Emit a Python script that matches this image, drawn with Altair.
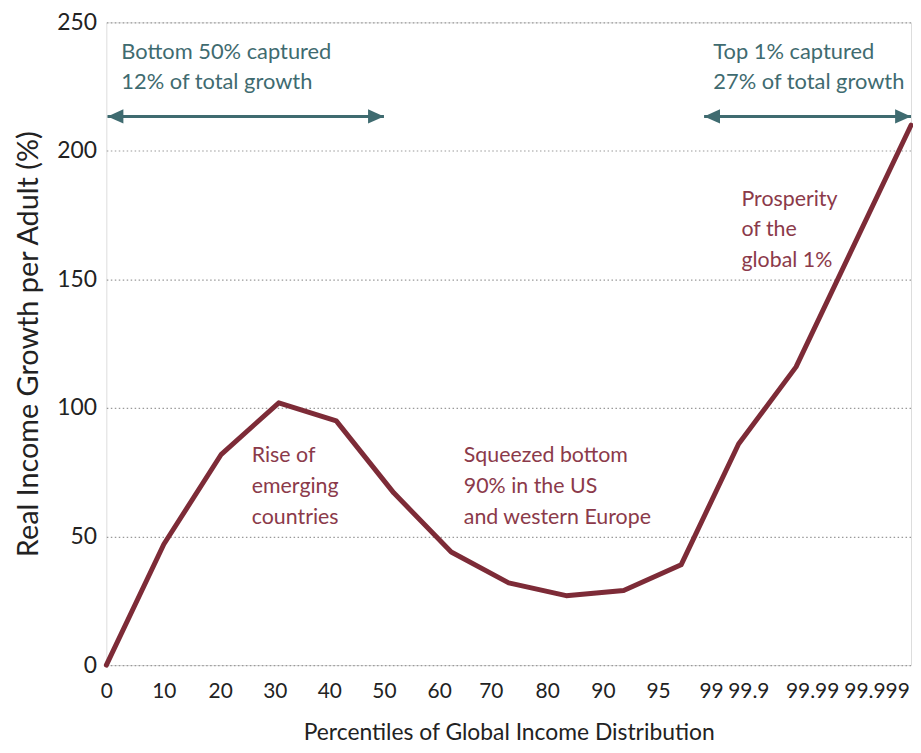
import altair as alt
import pandas as pd

# Line data: position index along the (non-linear) percentile axis and growth (%)
pos_index = [0, 1, 2, 3, 4, 5, 6, 7, 8, 9, 10, 11, 12, 14]
growth = [0, 47, 82, 102, 95, 67, 44, 32, 27, 29, 39, 86, 116, 210]

# Axis tick labels and where they sit on the index axis
tick_labels = ["0", "10", "20", "30", "40", "50", "60", "70", "80", "90", "95",
               "99", "99.9", "99.99", "99.999"]
tick_pos = [0, 1.0, 1.98, 2.93, 3.88, 4.83, 5.79, 6.69, 7.67, 8.64, 9.6,
            10.52, 11.17, 12.28, 13.4]

# Annotations
red_notes = ["Rise of\nemerging\ncountries",
             "Squeezed bottom\n90% in the US\nand western Europe",
             "Prosperity\nof the\nglobal 1%"]
red_x = [2.53, 6.22, 11.05]
red_y = [79, 79, 178.7]

teal_notes = ["Bottom 50% captured\n12% of total growth",
              "Top 1% captured\n27% of total growth"]
teal_x = [0.26, 10.56]
teal_y = [235.7, 235.7]

arrow_x1 = [0.02, 10.4]
arrow_x2 = [4.83, 14.0]
arrow_y = [213.4, 213.4]

LINE = "#7d2b37"
TEAL = "#3f6b70"
RED_TXT = "#8b3a4a"
FONT = "Lato"

df = pd.DataFrame({"x": pos_index, "y": growth})
df_red = pd.DataFrame({"x": red_x, "y": red_y, "t": red_notes})
df_teal = pd.DataFrame({"x": teal_x, "y": teal_y, "t": teal_notes})
df_arrow = pd.DataFrame({"x": arrow_x1, "x2": arrow_x2, "y": arrow_y})

label_map = "{" + ",".join(f"'{p:g}':'{l}'" for p, l in zip(tick_pos, tick_labels)) + "}"

xscale = alt.Scale(domain=[0, 14], nice=False, zero=False)
yscale = alt.Scale(domain=[0, 250], nice=False)

x_enc = alt.X("x:Q", scale=xscale,
              axis=alt.Axis(values=tick_pos,
                            labelExpr=f"{label_map}[toString(datum.value)]",
                            title="Percentiles of Global Income Distribution",
                            grid=False, domain=False, ticks=False,
                            labelPadding=16, labelFontSize=21, labelColor="#222",
                            labelFont=FONT, titleFont=FONT, titleFontSize=23,
                            titleFontWeight="normal", titleColor="#222",
                            titlePadding=20, labelOverlap=False, labelFlush=False))
y_enc = alt.Y("y:Q", scale=yscale,
              axis=alt.Axis(values=[0, 50, 100, 150, 200, 250],
                            title="Real Income Growth per Adult (%)",
                            grid=True, gridDash=[1.5, 2.5], gridColor="#999",
                            gridWidth=1.2, domain=False, ticks=False,
                            labelPadding=10, labelFontSize=23, labelColor="#222",
                            labelFont=FONT, titleFont=FONT, titleFontSize=29,
                            titleFontWeight="normal", titleColor="#222",
                            titlePadding=13))

line = alt.Chart(df).mark_line(color=LINE, strokeWidth=5, strokeJoin="round",
                               strokeCap="round").encode(x=x_enc, y=y_enc)

red = alt.Chart(df_red).mark_text(align="left", baseline="alphabetic", font=FONT,
                                  fontSize=21.5, color=RED_TXT, lineHeight=31,
                                  lineBreak="\n").encode(x="x:Q", y="y:Q", text="t:N")
teal = alt.Chart(df_teal).mark_text(align="left", baseline="alphabetic", font=FONT,
                                    fontSize=22, color=TEAL, lineHeight=30,
                                    lineBreak="\n").encode(x="x:Q", y="y:Q", text="t:N")

shaft = alt.Chart(df_arrow).mark_rule(color=TEAL, strokeWidth=3).encode(
    x="x:Q", x2="x2:Q", y="y:Q")
head_l = alt.Chart(df_arrow).mark_point(shape="M0,0L2,-0.9L2,0.9Z", filled=True,
                                        opacity=1, color=TEAL, size=256).encode(
    x="x:Q", y="y:Q")
head_r = alt.Chart(df_arrow).mark_point(shape="M0,0L-2,-0.9L-2,0.9Z", filled=True,
                                        opacity=1, color=TEAL, size=256).encode(
    x="x2:Q", y="y:Q")

chart = alt.layer(line, shaft, head_l, head_r, teal, red).properties(
    width=810, height=647,
    autosize=alt.AutoSizeParams(type="none"),
    padding={"left": 99, "top": 12, "right": 2, "bottom": 80},
).configure_view(stroke=None).configure(background="white")

chart.save("out.html", embed_options={"renderer": "svg", "actions": False})
